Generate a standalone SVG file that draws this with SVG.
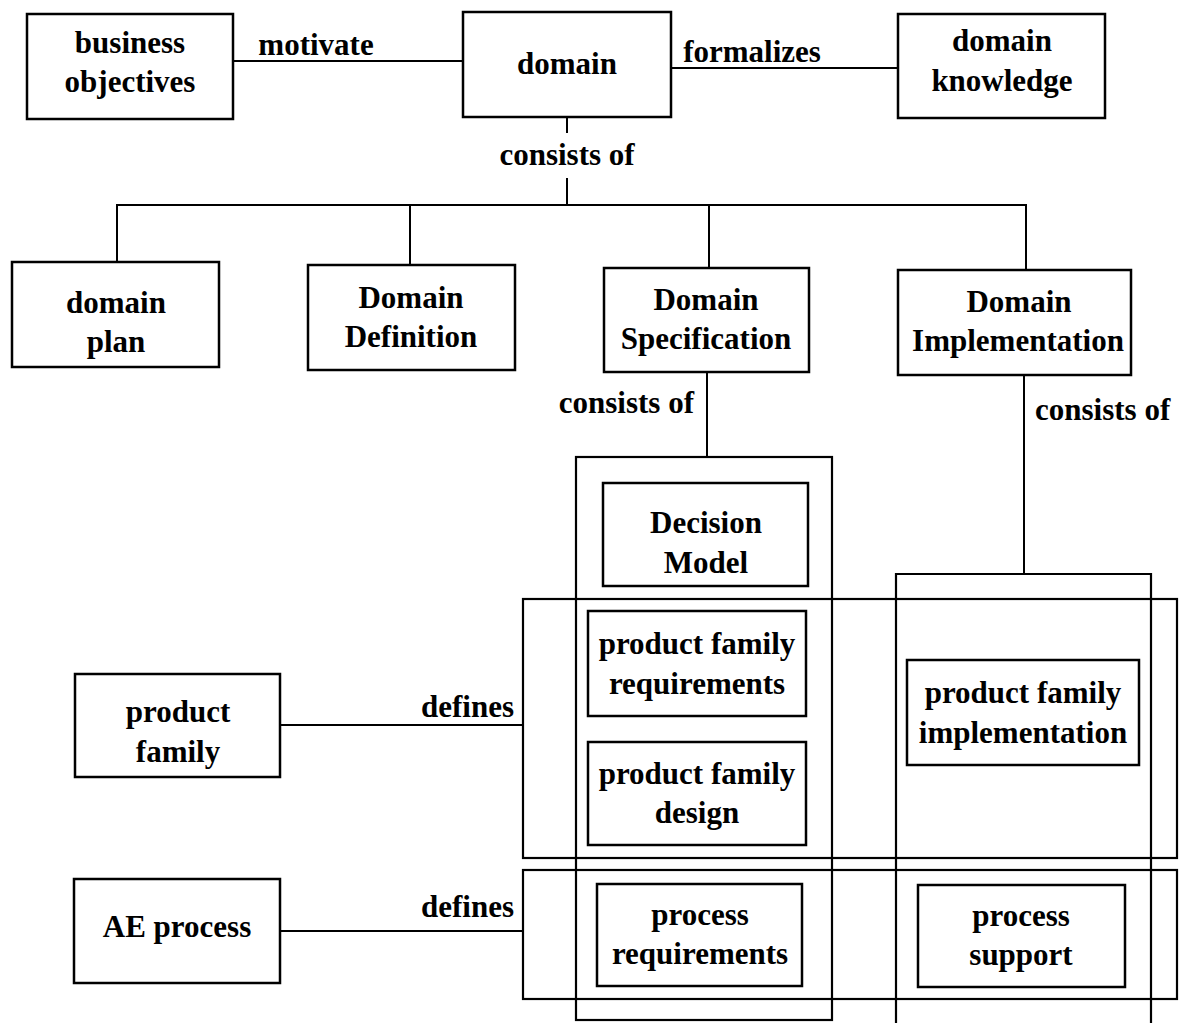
<svg xmlns="http://www.w3.org/2000/svg" width="1187" height="1023" viewBox="0 0 1187 1023">
  <style>
    .box { fill: none; stroke: #000; stroke-width: 2.5; }
    .frame { fill: none; stroke: #000; stroke-width: 2.2; }
    .link { fill: none; stroke: #000; stroke-width: 2; }
    text { font-family: "Liberation Serif", "Times New Roman", serif; font-weight: bold; font-size: 31px; fill: #000; text-anchor: middle; }
    .end { text-anchor: end; }
    .start { text-anchor: start; }
  </style>
  <rect width="1187" height="1023" fill="#fff"/>

  <!-- connectors -->
  <g id="connectors">
    <line class="link" x1="233" y1="61" x2="463" y2="61"/>
    <line class="link" x1="671" y1="68" x2="898" y2="68"/>
    <line class="link" x1="567" y1="117" x2="567" y2="133"/>
    <line class="link" x1="567" y1="178" x2="567" y2="205"/>
    <polyline class="link" points="117,262 117,205 1026,205 1026,270"/>
    <line class="link" x1="410" y1="205" x2="410" y2="265"/>
    <line class="link" x1="709" y1="205" x2="709" y2="268"/>
    <line class="link" x1="707" y1="372" x2="707" y2="457"/>
    <line class="link" x1="1024" y1="375" x2="1024" y2="574"/>
    <line class="link" x1="280" y1="725" x2="523" y2="725"/>
    <line class="link" x1="280" y1="931" x2="523" y2="931"/>
    <text x="316" y="55">motivate</text>
    <text x="752" y="62">formalizes</text>
    <text x="567" y="165">consists of</text>
    <text class="end" x="694" y="413">consists of</text>
    <text class="start" x="1035" y="420">consists of</text>
    <text class="end" x="514" y="717">defines</text>
    <text class="end" x="514" y="917">defines</text>
  </g>

  <!-- top level -->
  <g id="business-objectives">
    <rect class="box" x="27" y="14" width="206" height="105"/>
    <text x="130" y="53">business</text>
    <text x="130" y="92">objectives</text>
  </g>
  <g id="domain">
    <rect class="box" x="463" y="12" width="208" height="105"/>
    <text x="567" y="74">domain</text>
  </g>
  <g id="domain-knowledge">
    <rect class="box" x="898" y="14" width="207" height="104"/>
    <text x="1002" y="51">domain</text>
    <text x="1002" y="91">knowledge</text>
  </g>

  <!-- domain parts -->
  <g id="domain-plan">
    <rect class="box" x="12" y="262" width="207" height="105"/>
    <text x="116" y="313">domain</text>
    <text x="116" y="352">plan</text>
  </g>
  <g id="domain-definition">
    <rect class="box" x="308" y="265" width="207" height="105"/>
    <text x="411" y="308">Domain</text>
    <text x="411" y="347">Definition</text>
  </g>
  <g id="domain-specification">
    <rect class="box" x="604" y="268" width="205" height="104"/>
    <text x="706" y="310">Domain</text>
    <text x="706" y="349">Specification</text>
  </g>
  <g id="domain-implementation">
    <rect class="box" x="898" y="270" width="233" height="105"/>
    <text x="1019" y="312">Domain</text>
    <text x="1018" y="351">Implementation</text>
  </g>

  <!-- column and row frames -->
  <g id="specification-column">
    <rect class="frame" x="576" y="457" width="256" height="563"/>
  </g>
  <g id="implementation-column">
    <polyline class="frame" points="896,1030 896,574 1151,574 1151,1030"/>
  </g>
  <g id="product-row">
    <rect class="frame" x="523" y="599" width="654" height="259"/>
  </g>
  <g id="process-row">
    <rect class="frame" x="523" y="870" width="654" height="129"/>
  </g>

  <!-- specification contents -->
  <g id="decision-model">
    <rect class="box" x="603" y="483" width="205" height="103"/>
    <text x="706" y="533">Decision</text>
    <text x="706" y="573">Model</text>
  </g>
  <g id="product-family-requirements">
    <rect class="box" x="588" y="611" width="218" height="105"/>
    <text x="697" y="654">product family</text>
    <text x="697" y="694">requirements</text>
  </g>
  <g id="product-family-design">
    <rect class="box" x="588" y="742" width="218" height="103"/>
    <text x="697" y="784">product family</text>
    <text x="697" y="823">design</text>
  </g>
  <g id="process-requirements">
    <rect class="box" x="597" y="884" width="205" height="102"/>
    <text x="700" y="925">process</text>
    <text x="700" y="964">requirements</text>
  </g>

  <!-- implementation contents -->
  <g id="product-family-implementation">
    <rect class="box" x="907" y="660" width="232" height="105"/>
    <text x="1023" y="703">product family</text>
    <text x="1023" y="743">implementation</text>
  </g>
  <g id="process-support">
    <rect class="box" x="918" y="885" width="207" height="102"/>
    <text x="1021" y="926">process</text>
    <text x="1021" y="965">support</text>
  </g>

  <!-- left side -->
  <g id="product-family">
    <rect class="box" x="75" y="674" width="205" height="103"/>
    <text x="178" y="722">product</text>
    <text x="178" y="762">family</text>
  </g>
  <g id="ae-process">
    <rect class="box" x="74" y="879" width="206" height="104"/>
    <text x="177" y="937">AE process</text>
  </g>
</svg>
